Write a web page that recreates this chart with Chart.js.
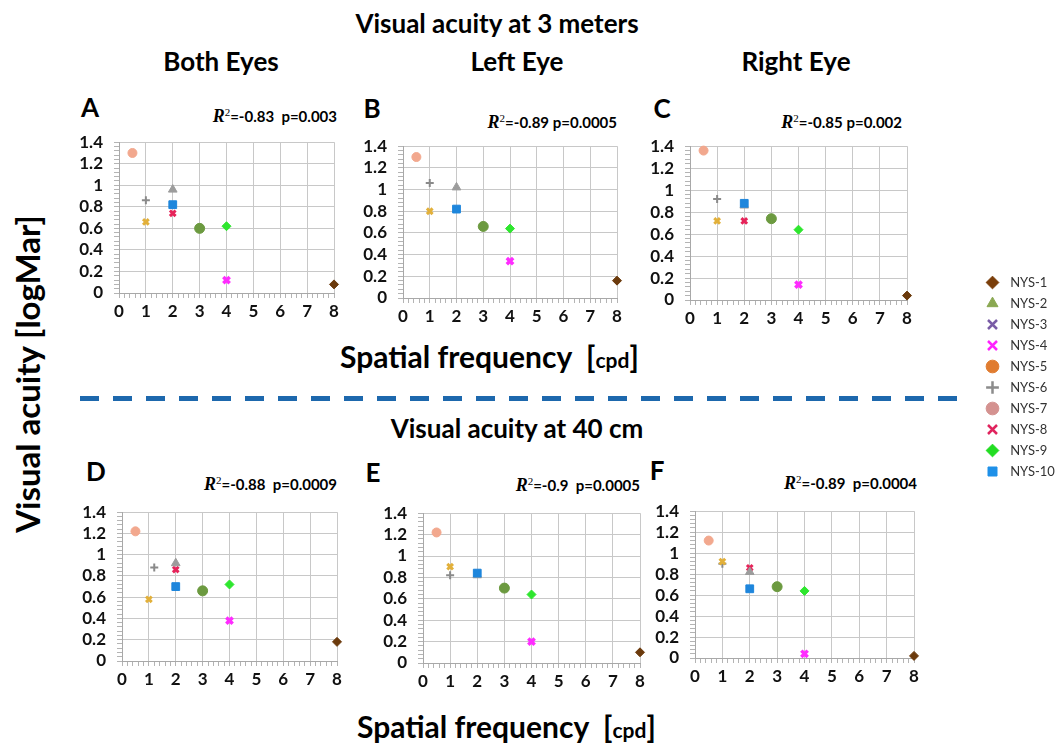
<!DOCTYPE html>
<html>
<head>
<meta charset="utf-8">
<script src="https://cdn.jsdelivr.net/npm/chart.js@4.4.1/dist/chart.umd.min.js"></script>
<style>
  body { margin: 0; background: #fff; width: 1062px; height: 749px; position: relative; overflow: hidden; font-family: Lato, sans-serif; color: #000; }
  .t { position: absolute; white-space: nowrap; font-weight: bold; line-height: 1; }
  .c { transform: translate(-50%, -50%); }
  .l { transform: translateY(-50%); }
  .r { transform: translate(-100%, -50%); font-size: 15px; }
  .r i { font-family: 'Liberation Serif', serif; font-size: 18px; }
  .r sup { font-family: 'Liberation Serif', serif; font-size: 11px; font-weight: normal; }
  canvas { position: absolute; }
  #dash { position: absolute; left: 80px; top: 396px; width: 878px; height: 5px;
          background: repeating-linear-gradient(90deg, #1d68ad 0 19px, transparent 19px 33px); }
</style>
</head>
<body>
<div class="t c" style="left:497px;top:23px;font-size:26px">Visual acuity at 3 meters</div>
<div class="t c" style="left:221px;top:61px;font-size:26px">Both Eyes</div>
<div class="t c" style="left:517px;top:61px;font-size:26px">Left Eye</div>
<div class="t c" style="left:796px;top:61px;font-size:26px">Right Eye</div>
<div class="t c" style="left:517px;top:428px;font-size:26px">Visual acuity at 40 cm</div>

<div class="t c" style="left:27px;top:374px;font-size:33px;transform:translate(-50%,-50%) rotate(-90deg)">Visual acuity [logMar]</div>

<div class="t l" style="left:340px;top:356px;font-size:30px">Spatial frequency&nbsp; [<span style="font-size:21px">cpd</span>]</div>
<div class="t l" style="left:357px;top:726px;font-size:30px">Spatial frequency&nbsp; [<span style="font-size:21px">cpd</span>]</div>

<div id="dash"></div>
<div id="labels"></div>

<canvas id="pA" width="273" height="202" style="left:73px;top:121px"></canvas>
<canvas id="pB" width="272" height="203" style="left:357px;top:125px"></canvas>
<canvas id="pC" width="275" height="205" style="left:644px;top:125px"></canvas>
<canvas id="pD" width="273" height="200" style="left:76px;top:491px"></canvas>
<canvas id="pE" width="275" height="201" style="left:377px;top:492px"></canvas>
<canvas id="pF" width="277" height="198" style="left:649px;top:490px"></canvas>
<canvas id="legend" width="82" height="470" style="left:980px;top:268px"></canvas>

<script>
const series = ['NYS-1', 'NYS-2', 'NYS-3', 'NYS-4', 'NYS-5', 'NYS-6', 'NYS-7', 'NYS-8', 'NYS-9', 'NYS-10'];
const xTickLabels = [0, 1, 2, 3, 4, 5, 6, 7, 8];
const yTickLabels = [0, 0.2, 0.4, 0.6, 0.8, 1, 1.2, 1.4];

// spatial frequency [cpd] per subject, one array per panel
const xA = [8, 2, 1, 4, 3, 1, 0.5, 2, 4, 2];
const xB = [8, 2, 1, 4, 3, 1, 0.5, 2, 4, 2];
const xC = [8, 2, 1, 4, 3, 1, 0.5, 2, 4, 2];
const xD = [8, 2, 1, 4, 3, 1.2, 0.5, 2, 4, 2];
const xE = [8, 2, 1, 4, 3, 1, 0.5, 2, 4, 2];
const xF = [8, 2, 1, 4, 3, 1, 0.5, 2, 4, 2];

// visual acuity [logMar] per subject
const yA = [0.08, 0.96, 0.66, 0.12, 0.60, 0.86, 1.30, 0.74, 0.62, 0.82];
const yB = [0.16, 1.02, 0.80, 0.34, 0.66, 1.06, 1.30, 0.82, 0.64, 0.82];
const yC = [0.04, 0.86, 0.72, 0.14, 0.74, 0.92, 1.36, 0.72, 0.64, 0.88];
const yD = [0.18, 0.92, 0.58, 0.38, 0.66, 0.88, 1.22, 0.86, 0.72, 0.70];
const yE = [0.10, 0.82, 0.90, 0.20, 0.70, 0.82, 1.22, 0.84, 0.64, 0.84];
const yF = [0.02, 0.82, 0.92, 0.04, 0.68, 0.90, 1.12, 0.86, 0.64, 0.66];

const panelNames = ['A', 'B', 'C', 'D', 'E', 'F'];
const r2Values = ['-0.83', '-0.89', '-0.85', '-0.88', '-0.9', '-0.89'];
const pValues = ['0.003', '0.0005', '0.002', '0.0009', '0.0005', '0.0004'];

// marker look
const markers = ['rectRot', 'triangle', 'crossRot', 'crossRot', 'circle', 'cross', 'circle', 'crossRot', 'rectRot', 'rect'];
const plotColors = ['#6b3a0c', '#9c9c9c', '#e2b03a', '#ff2cff', '#6c9a40', '#8a8a8a', '#f2a88e', '#e6245a', '#2ee62e', '#1e86dc'];
const radii = [4.5, 5, 4, 4.5, 5, 4, 4.5, 4, 4.5, 5.5];
const widths = [1, 1, 3, 3.5, 1, 2, 1, 3, 1, 1];
const legendColors = ['#7a3e0a', '#8aa852', '#7a5ca6', '#ff22ff', '#e07c30', '#8c8c8c', '#d49290', '#e0245e', '#22dd22', '#1e90e8'];

const xs = [xA, xB, xC, xD, xE, xF];
const ys = [yA, yB, yC, yD, yE, yF];

// where the letter and the R2 text go
const letterPos = [[90, 107], [372, 108], [662, 108], [96, 471], [373, 472], [657, 470]];
const statPos = [[337, 116], [617, 122], [902, 122], [337, 484], [640, 485], [917, 483]];
const gaps = ['&nbsp; ', ' ', ' ', '&nbsp; ', '&nbsp; ', '&nbsp; '];

const near = (v, list) => list.some(t => Math.abs(t - v) < 1e-6);
const tickFont = { family: 'Lato', size: 17, weight: 'bold' };

let html = '';
panelNames.forEach((n, i) => {
  html += `<div class="t c" style="left:${letterPos[i][0]}px;top:${letterPos[i][1]}px;font-size:26px">${n}</div>`;
  html += `<div class="t r" style="left:${statPos[i][0]}px;top:${statPos[i][1]}px"><i>R</i><sup>2</sup>=${r2Values[i]}${gaps[i]}p=${pValues[i]}</div>`;
});
document.getElementById('labels').innerHTML = html;

function makePanel(id, px, py) {
  const datasets = series.map((name, i) => ({
    label: name,
    data: [{ x: px[i], y: py[i] }],
    pointStyle: markers[i],
    pointRadius: radii[i],
    pointHoverRadius: radii[i],
    backgroundColor: plotColors[i],
    borderColor: plotColors[i],
    borderWidth: widths[i],
    order: name === 'NYS-10' ? -1 : i,
    clip: false
  }));

  new Chart(document.getElementById(id), {
    type: 'scatter',
    data: { datasets: datasets },
    options: {
      responsive: false,
      animation: false,
      devicePixelRatio: 1,
      layout: { padding: { top: 12, right: 12, left: 0, bottom: 0 } },
      plugins: { legend: { display: false }, tooltip: { enabled: false } },
      scales: {
        x: {
          type: 'linear', min: 0, max: 8,
          ticks: {
            stepSize: 0.2, autoSkip: false, maxRotation: 0, padding: 3,
            font: tickFont, color: '#111',
            callback: v => near(v, xTickLabels) ? String(Math.round(v)) : ''
          },
          grid: {
            color: c => (c.tick && near(c.tick.value, xTickLabels)) ? '#c8c8c8' : 'rgba(0,0,0,0)',
            tickColor: '#b4b4b4', tickLength: 5
          },
          border: { color: '#a8a8a8' },
          afterFit: s => { s.height = 30; }
        },
        y: {
          type: 'linear', min: 0, max: 1.4,
          ticks: {
            stepSize: 0.04, autoSkip: false, padding: 11,
            font: tickFont, color: '#111',
            callback: v => near(v, yTickLabels) ? String(Math.round(v * 10) / 10) : ''
          },
          grid: {
            color: c => (c.tick && near(c.tick.value, yTickLabels)) ? '#c8c8c8' : 'rgba(0,0,0,0)',
            tickColor: '#b4b4b4', tickLength: 5
          },
          border: { color: '#a8a8a8' },
          afterFit: s => { s.width = 46; }
        }
      }
    }
  });
}

panelNames.forEach((n, i) => makePanel('p' + n, xs[i], ys[i]));

// legend
new Chart(document.getElementById('legend'), {
  type: 'scatter',
  data: {
    datasets: series.map((name, i) => ({
      label: name,
      data: [],
      pointStyle: markers[i],
      backgroundColor: legendColors[i],
      borderColor: legendColors[i],
      borderWidth: widths[i] > 1 ? 2.5 : 1
    }))
  },
  options: {
    responsive: false,
    animation: false,
    devicePixelRatio: 1,
    scales: { x: { display: false }, y: { display: false } },
    plugins: {
      tooltip: { enabled: false },
      legend: {
        position: 'top',
        align: 'start',
        labels: {
          usePointStyle: true,
          boxWidth: 9,
          boxHeight: 9,
          padding: 8,
          color: '#333',
          font: { family: 'Lato', size: 13 },
          generateLabels: chart => Chart.defaults.plugins.legend.labels.generateLabels(chart)
            .map(item => Object.assign(item, { text: '  ' + item.text }))
        }
      }
    }
  }
});
</script>
</body>
</html>
